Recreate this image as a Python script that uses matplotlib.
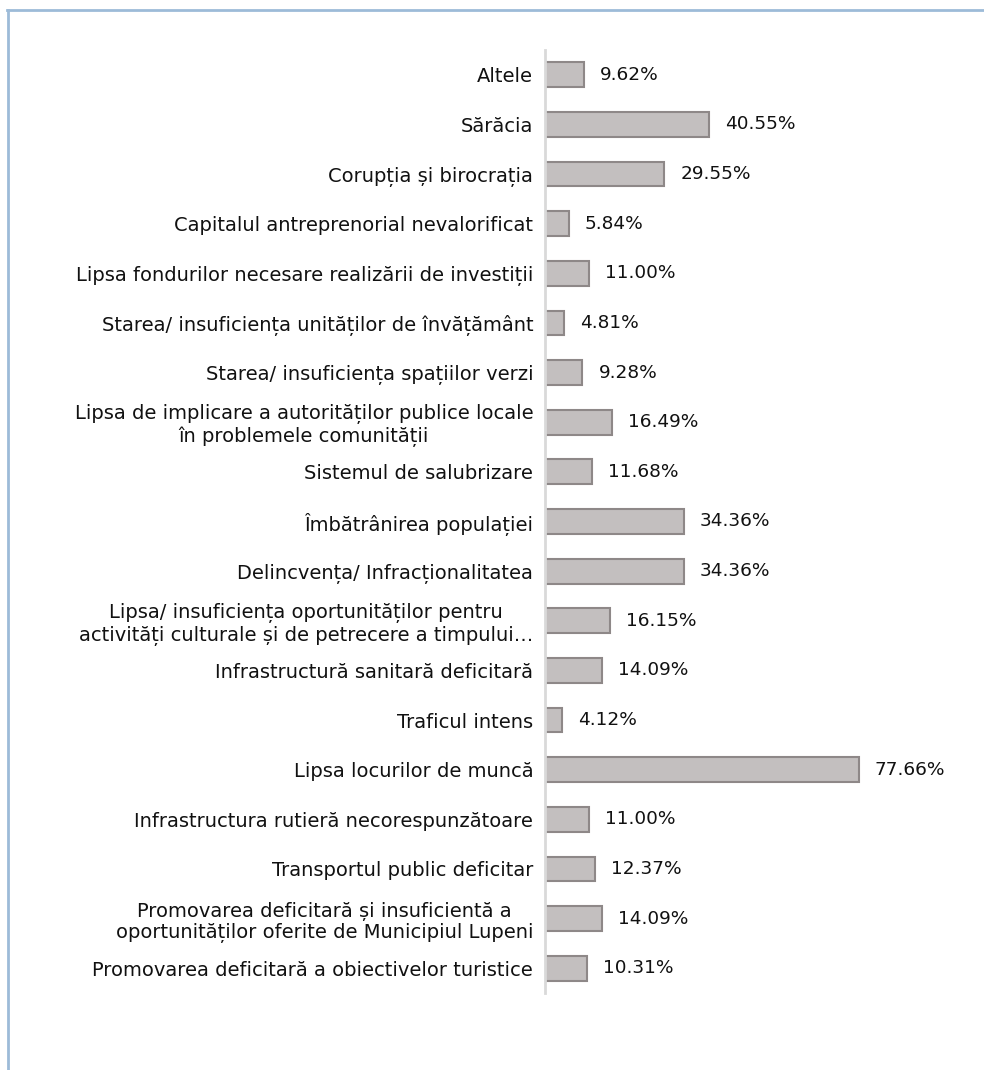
import matplotlib
matplotlib.use("Agg")
import matplotlib.pyplot as plt
from matplotlib.lines import Line2D

categories = [
    "Altele",
    "Sărăcia",
    "Corupția și birocrația",
    "Capitalul antreprenorial nevalorificat",
    "Lipsa fondurilor necesare realizării de investiții",
    "Starea/ insuficiența unităților de învățământ",
    "Starea/ insuficiența spațiilor verzi",
    "Lipsa de implicare a autorităților publice locale\nîn problemele comunității",
    "Sistemul de salubrizare",
    "Îmbătrânirea populației",
    "Delincvența/ Infracționalitatea",
    "Lipsa/ insuficiența oportunităților pentru\nactivități culturale și de petrecere a timpului…",
    "Infrastructură sanitară deficitară",
    "Traficul intens",
    "Lipsa locurilor de muncă",
    "Infrastructura rutieră necorespunzătoare",
    "Transportul public deficitar",
    "Promovarea deficitară și insuficientă a\noportunităților oferite de Municipiul Lupeni",
    "Promovarea deficitară a obiectivelor turistice",
]
values = [9.62, 40.55, 29.55, 5.84, 11.00, 4.81, 9.28, 16.49, 11.68, 34.36,
          34.36, 16.15, 14.09, 4.12, 77.66, 11.00, 12.37, 14.09, 10.31]

plt.rcParams['font.family'] = ['DejaVu Sans']
FS = 14
VFS = 13.3

fig = plt.figure(figsize=(9.84, 10.70), dpi=100)
ax = fig.add_axes([545/984, (1070-993)/1070, (949-545)/984, (993-50)/1070])

ypos = list(range(len(categories)))
bars = ax.barh(ypos, values, height=0.5, color='#c3bfbf', edgecolor='#8e8888', linewidth=1.5)
ax.set_ylim(len(categories) - 1 + 0.5, -0.5)
ax.set_xlim(0, 100)
ax.set_yticks(ypos)
ax.set_yticklabels(categories, fontsize=FS, color='#111111', multialignment='center',
                   linespacing=1.15)
ax.tick_params(axis='y', length=0, pad=8.5)
ax.set_xticks([])
for s in ['top', 'right', 'bottom']:
    ax.spines[s].set_visible(False)
ax.spines['left'].set_color('#d9d9d9')
ax.spines['left'].set_linewidth(2)

for b, v in zip(bars, values):
    ax.annotate(f"{v:.2f}%", xy=(b.get_width(), b.get_y() + b.get_height()/2),
                xytext=(16, 0), textcoords='offset pixels', va='center', ha='left',
                fontsize=VFS, color='#111111')

# outer frame (left and top edges visible)
fig.add_artist(Line2D([8/984, 8/984], [0, 1 - 10/1070], transform=fig.transFigure,
                      color='#9dbbd8', linewidth=2))
fig.add_artist(Line2D([7/984, 1], [1 - 10/1070, 1 - 10/1070], transform=fig.transFigure,
                      color='#9dbbd8', linewidth=2))

fig.savefig("out.png", dpi=100)
